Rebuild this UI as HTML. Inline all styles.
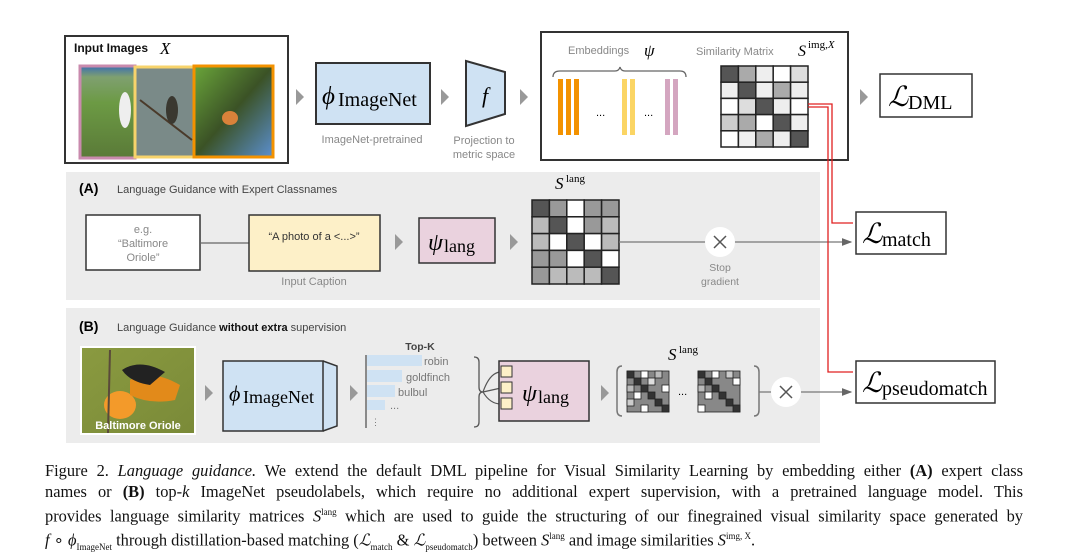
<!DOCTYPE html>
<html><head><meta charset="utf-8"><style>
body{margin:0;width:1080px;height:557px;background:#fff;overflow:hidden;position:relative;font-family:"Liberation Sans",sans-serif}
svg{position:absolute;left:0;top:0}
.cap{position:absolute;left:45px;width:978px;font-family:"Liberation Serif",serif;font-size:16.4px;color:#111;line-height:21px}
.cap div{text-align:justify;text-align-last:justify;white-space:nowrap}
.cap div.last{text-align-last:left}
</style></head><body>
<svg width="1080" height="460" viewBox="0 0 1080 460" font-family="Liberation Sans, sans-serif">
<defs>
<marker id="ar" markerWidth="8" markerHeight="8" refX="7" refY="4" orient="auto"><path d="M0,1 L8,4 L0,7Z" fill="#666"/></marker>
<linearGradient id="g1" x1="0" y1="0" x2="0" y2="1"><stop offset="0" stop-color="#3c6fb0"/><stop offset=".12" stop-color="#7fa070"/><stop offset=".4" stop-color="#6c9a44"/><stop offset="1" stop-color="#5a7a38"/></linearGradient>
<linearGradient id="g3" x1="0" y1="0" x2="1" y2="1"><stop offset="0" stop-color="#6aa53a"/><stop offset=".5" stop-color="#3b5226"/><stop offset="1" stop-color="#5b8fcf"/></linearGradient>
<linearGradient id="g4" x1="0" y1="0" x2="1" y2="1"><stop offset="0" stop-color="#8a9a40"/><stop offset="1" stop-color="#7a8a38"/></linearGradient>
</defs>
<!-- input images -->
<rect x="65" y="36" width="223" height="127" fill="#fff" stroke="#333" stroke-width="2"/>
<text x="74" y="52" font-size="12" font-weight="bold" fill="#111">Input Images</text>
<text x="160" y="54" font-size="17" font-style="italic" font-family="Liberation Serif,serif">X</text>
<rect x="80" y="66" width="55" height="92" fill="url(#g1)" stroke="#c98aad" stroke-width="3"/>
<ellipse cx="125" cy="110" rx="6" ry="18" fill="#eee"/>
<rect x="135" y="67" width="59" height="90" fill="#7a8a88" stroke="#f7d36b" stroke-width="3"/>
<line x1="140" y1="100" x2="192" y2="140" stroke="#4a3a2a" stroke-width="2"/>
<ellipse cx="172" cy="110" rx="6" ry="14" fill="#3a3830"/>
<rect x="194" y="66" width="79" height="91" fill="url(#g3)" stroke="#f39200" stroke-width="3"/>
<ellipse cx="230" cy="118" rx="8" ry="7" fill="#d9823a"/>
<!-- phi -->
<rect x="316" y="63" width="114" height="61" fill="#cfe2f3" stroke="#333" stroke-width="2"/>
<text x="322" y="104" font-family="Liberation Serif,serif" font-size="25" font-style="italic">ϕ</text><text x="338" y="106" font-family="Liberation Serif,serif" font-size="20">ImageNet</text>
<text x="372" y="143" font-size="11" fill="#888" text-anchor="middle">ImageNet-pretrained</text>
<path d="M466,61 L505,72 L505,114 L466,126Z" fill="#cfe2f3" stroke="#333" stroke-width="2"/>
<text x="482" y="103" font-family="Liberation Serif,serif" font-size="22" font-style="italic">f</text>
<text x="484" y="144" font-size="11" fill="#888" text-anchor="middle">Projection to</text>
<text x="484" y="158" font-size="11" fill="#888" text-anchor="middle">metric space</text>
<!-- embeddings box -->
<rect x="541" y="32" width="307" height="128" fill="#fff" stroke="#333" stroke-width="2"/>
<text x="568" y="54" font-size="11" fill="#888">Embeddings</text>
<text x="644" y="56" font-family="Liberation Serif,serif" font-size="17" font-style="italic">ψ</text>
<path d="M553,77 Q553,71 560,71 L615,71 Q619,71 620,67 Q621,71 625,71 L680,71 Q686,71 686,77" fill="none" stroke="#666" stroke-width="1.3"/>
<g fill="#f39200"><rect x="558" y="79" width="5" height="56"/><rect x="566" y="79" width="5" height="56"/><rect x="574" y="79" width="5" height="56"/></g>
<text x="596" y="116" font-size="11">...</text>
<g fill="#fbd564"><rect x="622" y="79" width="5" height="56"/><rect x="630" y="79" width="5" height="56"/></g>
<text x="644" y="116" font-size="11">...</text>
<g fill="#d4a6c0"><rect x="665" y="79" width="5" height="56"/><rect x="673" y="79" width="5" height="56"/></g>
<text x="696" y="55" font-size="11" fill="#888">Similarity Matrix</text>
<text x="798" y="56" font-family="Liberation Serif,serif" font-size="16" font-style="italic">S</text><text x="808" y="48" font-family="Liberation Serif,serif" font-size="11">img,<tspan font-style="italic">X</tspan></text>
<g stroke="#222" stroke-width="1.5">
<rect x="721" y="66" width="17.4" height="16.2" fill="#555"/><rect x="738.4" y="66" width="17.4" height="16.2" fill="#aaa"/><rect x="755.8" y="66" width="17.4" height="16.2" fill="#eee"/><rect x="773.2" y="66" width="17.4" height="16.2" fill="#fff"/><rect x="790.6" y="66" width="17.4" height="16.2" fill="#ddd"/>
<rect x="721" y="82.2" width="17.4" height="16.2" fill="#eee"/><rect x="738.4" y="82.2" width="17.4" height="16.2" fill="#555"/><rect x="755.8" y="82.2" width="17.4" height="16.2" fill="#eee"/><rect x="773.2" y="82.2" width="17.4" height="16.2" fill="#aaa"/><rect x="790.6" y="82.2" width="17.4" height="16.2" fill="#eee"/>
<rect x="721" y="98.4" width="17.4" height="16.2" fill="#fff"/><rect x="738.4" y="98.4" width="17.4" height="16.2" fill="#ddd"/><rect x="755.8" y="98.4" width="17.4" height="16.2" fill="#555"/><rect x="773.2" y="98.4" width="17.4" height="16.2" fill="#eee"/><rect x="790.6" y="98.4" width="17.4" height="16.2" fill="#fff"/>
<rect x="721" y="114.6" width="17.4" height="16.2" fill="#ccc"/><rect x="738.4" y="114.6" width="17.4" height="16.2" fill="#aaa"/><rect x="755.8" y="114.6" width="17.4" height="16.2" fill="#fff"/><rect x="773.2" y="114.6" width="17.4" height="16.2" fill="#555"/><rect x="790.6" y="114.6" width="17.4" height="16.2" fill="#eee"/>
<rect x="721" y="130.8" width="17.4" height="16.2" fill="#fff"/><rect x="738.4" y="130.8" width="17.4" height="16.2" fill="#eee"/><rect x="755.8" y="130.8" width="17.4" height="16.2" fill="#aaa"/><rect x="773.2" y="130.8" width="17.4" height="16.2" fill="#eee"/><rect x="790.6" y="130.8" width="17.4" height="16.2" fill="#555"/>
</g>
<!-- L_DML -->
<rect x="880" y="74" width="92" height="43" fill="#fff" stroke="#333" stroke-width="1.5"/>
<text x="888" y="106" font-family="Liberation Serif,serif" font-size="28" font-style="italic">ℒ</text><text x="908" y="109" font-family="Liberation Serif,serif" font-size="20">DML</text>
<!-- section A -->
<rect x="66" y="172" width="754" height="128" fill="#ececec"/>
<text x="79" y="193" font-size="14" font-weight="bold">(A)</text>
<text x="117" y="193" font-size="11" fill="#444">Language Guidance with Expert Classnames</text>
<rect x="86" y="215" width="114" height="55" fill="#fff" stroke="#333" stroke-width="1.5"/>
<g font-size="11" fill="#888" text-anchor="middle"><text x="143" y="233">e.g.</text><text x="143" y="247">“Baltimore</text><text x="143" y="261">Oriole”</text></g>
<line x1="200" y1="243" x2="249" y2="243" stroke="#666" stroke-width="1.3"/>
<rect x="249" y="215" width="131" height="56" fill="#fdf0c8" stroke="#333" stroke-width="1.5"/>
<text x="314" y="240" font-size="11" fill="#333" text-anchor="middle">“A photo of a &lt;...&gt;”</text>
<text x="314" y="285" font-size="11" fill="#888" text-anchor="middle">Input Caption</text>
<rect x="419" y="218" width="76" height="45" fill="#ead2de" stroke="#333" stroke-width="1.5"/>
<text x="428" y="250" font-family="Liberation Serif,serif" font-size="24" font-style="italic">ψ</text><text x="444" y="252" font-family="Liberation Serif,serif" font-size="18">lang</text>
<text x="555" y="189" font-family="Liberation Serif,serif" font-size="17" font-style="italic">S</text><text x="566" y="182" font-family="Liberation Serif,serif" font-size="11">lang</text>
<g stroke="#222" stroke-width="1.5">
<rect x="532" y="200" width="17.4" height="16.8" fill="#555"/><rect x="549.4" y="200" width="17.4" height="16.8" fill="#999"/><rect x="566.8" y="200" width="17.4" height="16.8" fill="#fff"/><rect x="584.2" y="200" width="17.4" height="16.8" fill="#999"/><rect x="601.6" y="200" width="17.4" height="16.8" fill="#999"/>
<rect x="532" y="216.8" width="17.4" height="16.8" fill="#bbb"/><rect x="549.4" y="216.8" width="17.4" height="16.8" fill="#555"/><rect x="566.8" y="216.8" width="17.4" height="16.8" fill="#fff"/><rect x="584.2" y="216.8" width="17.4" height="16.8" fill="#999"/><rect x="601.6" y="216.8" width="17.4" height="16.8" fill="#bbb"/>
<rect x="532" y="233.6" width="17.4" height="16.8" fill="#bbb"/><rect x="549.4" y="233.6" width="17.4" height="16.8" fill="#fff"/><rect x="566.8" y="233.6" width="17.4" height="16.8" fill="#555"/><rect x="584.2" y="233.6" width="17.4" height="16.8" fill="#fff"/><rect x="601.6" y="233.6" width="17.4" height="16.8" fill="#bbb"/>
<rect x="532" y="250.4" width="17.4" height="16.8" fill="#999"/><rect x="549.4" y="250.4" width="17.4" height="16.8" fill="#999"/><rect x="566.8" y="250.4" width="17.4" height="16.8" fill="#fff"/><rect x="584.2" y="250.4" width="17.4" height="16.8" fill="#555"/><rect x="601.6" y="250.4" width="17.4" height="16.8" fill="#fff"/>
<rect x="532" y="267.2" width="17.4" height="16.8" fill="#999"/><rect x="549.4" y="267.2" width="17.4" height="16.8" fill="#bbb"/><rect x="566.8" y="267.2" width="17.4" height="16.8" fill="#bbb"/><rect x="584.2" y="267.2" width="17.4" height="16.8" fill="#bbb"/><rect x="601.6" y="267.2" width="17.4" height="16.8" fill="#555"/>
</g>
<line x1="619" y1="242" x2="851" y2="242" stroke="#777" stroke-width="1.3" marker-end="url(#ar)"/>
<circle cx="720" cy="242" r="15" fill="#fff"/>
<path d="M714,236 L726,248 M726,236 L714,248" stroke="#555" stroke-width="1.5"/>
<text x="720" y="271" font-size="10.5" fill="#888" text-anchor="middle">Stop</text>
<text x="720" y="285" font-size="10.5" fill="#888" text-anchor="middle">gradient</text>
<rect x="856" y="212" width="90" height="42" fill="#fff" stroke="#333" stroke-width="1.5"/>
<text x="862" y="243" font-family="Liberation Serif,serif" font-size="28" font-style="italic">ℒ</text><text x="882" y="246" font-family="Liberation Serif,serif" font-size="20">match</text>
<!-- section B -->
<rect x="66" y="308" width="754" height="135" fill="#ececec"/>
<text x="79" y="331" font-size="14" font-weight="bold">(B)</text>
<text x="117" y="331" font-size="11" fill="#444">Language Guidance <tspan font-weight="bold" fill="#111">without extra</tspan> supervision</text>
<rect x="80" y="346" width="116" height="89" fill="#fff"/>
<rect x="82" y="348" width="112" height="85" fill="url(#g4)"/>
<ellipse cx="120" cy="405" rx="16" ry="14" fill="#f39a2a"/>
<path d="M130,380 Q150,368 180,385 L175,400 Q150,405 130,395Z" fill="#e28a1a"/>
<path d="M122,370 Q140,358 165,372 L150,385 Q130,382 122,370Z" fill="#222"/>
<line x1="110" y1="350" x2="108" y2="433" stroke="#5a4a3a" stroke-width="2"/>
<text x="138" y="429" font-size="11" font-weight="bold" fill="#fff" text-anchor="middle">Baltimore Oriole</text>
<path d="M323,361 L337,366 L337,426 L323,431" fill="#cfe2f3" stroke="#333" stroke-width="1.5"/>
<rect x="223" y="361" width="100" height="70" fill="#cfe2f3" stroke="#333" stroke-width="1.5"/>
<text x="229" y="401" font-family="Liberation Serif,serif" font-size="22" font-style="italic">ϕ</text><text x="243" y="403" font-family="Liberation Serif,serif" font-size="18">ImageNet</text>
<text x="420" y="350" font-size="10.5" font-weight="bold" fill="#444" text-anchor="middle">Top-K</text>
<g fill="#cfe2f3"><rect x="367" y="355" width="55" height="11"/><rect x="367" y="370" width="35" height="12"/><rect x="367" y="385" width="28" height="12"/><rect x="367" y="400" width="18" height="10"/></g>
<line x1="366" y1="355" x2="366" y2="428" stroke="#555" stroke-width="1.3"/>
<g font-size="11" fill="#777"><text x="424" y="365">robin</text><text x="406" y="381">goldfinch</text><text x="398" y="396">bulbul</text><text x="390" y="409">...</text><text x="371" y="425" font-size="9">⋮</text></g>
<path d="M474,357 Q479,357 479,362 L479,387 Q479,392 483,392 Q479,392 479,397 L479,422 Q479,427 474,427" fill="none" stroke="#555" stroke-width="1.3"/>
<path d="M483,392 Q490,372 501,372 M483,392 L501,388 M483,392 Q490,404 501,404" fill="none" stroke="#555" stroke-width="1.2"/>
<rect x="499" y="361" width="90" height="60" fill="#ead2de" stroke="#333" stroke-width="1.5"/>
<g fill="#fdf0c8" stroke="#333"><rect x="501" y="366" width="11" height="11"/><rect x="501" y="382" width="11" height="11"/><rect x="501" y="398" width="11" height="11"/></g>
<text x="522" y="401" font-family="Liberation Serif,serif" font-size="24" font-style="italic">ψ</text><text x="538" y="403" font-family="Liberation Serif,serif" font-size="18">lang</text>
<text x="668" y="360" font-family="Liberation Serif,serif" font-size="17" font-style="italic">S</text><text x="679" y="353" font-family="Liberation Serif,serif" font-size="11">lang</text>
<path d="M622,366 Q617,366 617,372 L617,410 Q617,416 622,416 M754,366 Q759,366 759,372 L759,410 Q759,416 754,416" fill="none" stroke="#777" stroke-width="1.5"/>
<g stroke="#222" stroke-width="0.8">
<rect x="627" y="371" width="42" height="41" fill="#888"/>
<rect x="627" y="371" width="7" height="7" fill="#333"/><rect x="641" y="371" width="7" height="7" fill="#fff"/><rect x="655" y="371" width="7" height="7" fill="#bbb"/><rect x="634" y="378" width="7" height="7" fill="#333"/><rect x="648" y="378" width="7" height="7" fill="#ddd"/><rect x="627" y="385" width="7" height="7" fill="#bbb"/><rect x="641" y="385" width="7" height="7" fill="#333"/><rect x="662" y="385" width="7" height="7" fill="#fff"/><rect x="634" y="392" width="7" height="7" fill="#fff"/><rect x="648" y="392" width="7" height="7" fill="#333"/><rect x="627" y="399" width="7" height="7" fill="#ccc"/><rect x="655" y="399" width="7" height="7" fill="#333"/><rect x="641" y="405" width="7" height="7" fill="#fff"/><rect x="662" y="405" width="7" height="7" fill="#333"/>
<rect x="698" y="371" width="42" height="41" fill="#888"/>
<rect x="698" y="371" width="7" height="7" fill="#333"/><rect x="712" y="371" width="7" height="7" fill="#fff"/><rect x="726" y="371" width="7" height="7" fill="#ccc"/><rect x="705" y="378" width="7" height="7" fill="#333"/><rect x="733" y="378" width="7" height="7" fill="#fff"/><rect x="698" y="385" width="7" height="7" fill="#bbb"/><rect x="712" y="385" width="7" height="7" fill="#333"/><rect x="719" y="392" width="7" height="7" fill="#333"/><rect x="705" y="392" width="7" height="7" fill="#fff"/><rect x="726" y="399" width="7" height="7" fill="#333"/><rect x="698" y="405" width="7" height="7" fill="#fff"/><rect x="733" y="405" width="7" height="7" fill="#333"/>
</g>
<text x="678" y="395" font-size="11">...</text>
<line x1="759" y1="392" x2="851" y2="392" stroke="#777" stroke-width="1.3" marker-end="url(#ar)"/>
<circle cx="786" cy="392" r="15" fill="#fff"/>
<path d="M780,386 L792,398 M792,386 L780,398" stroke="#555" stroke-width="1.5"/>
<rect x="856" y="361" width="139" height="42" fill="#fff" stroke="#333" stroke-width="1.5"/>
<text x="862" y="392" font-family="Liberation Serif,serif" font-size="28" font-style="italic">ℒ</text><text x="882" y="395" font-family="Liberation Serif,serif" font-size="20">pseudomatch</text>
<!-- arrows -->
<g fill="#999"><path d="M296,89 L304,97 L296,105Z"/><path d="M441,89 L449,97 L441,105Z"/><path d="M520,89 L528,97 L520,105Z"/><path d="M860,89 L868,97 L860,105Z"/>
<path d="M395,234 L403,242 L395,250Z"/><path d="M510,234 L518,242 L510,250Z"/><path d="M205,385 L213,393 L205,401Z"/><path d="M350,385 L358,393 L350,401Z"/><path d="M601,385 L609,393 L601,401Z"/></g>
<!-- red connectors -->
<path d="M808,104 L832,104 L832,223 L853,223" fill="none" stroke="#e02020" stroke-width="1.3"/>
<path d="M808,107 L828,107 L828,372 L853,372" fill="none" stroke="#e02020" stroke-width="1.3"/>
</svg>
<div class="cap" style="top:460px">
<div>Figure 2. <i>Language guidance.</i> We extend the default DML pipeline for Visual Similarity Learning by embedding either <b>(A)</b> expert class</div>
<div>names or <b>(B)</b> top-<i>k</i> ImageNet pseudolabels, which require no additional expert supervision, with a pretrained language model. This</div>
<div>provides language similarity matrices <i>S</i><sup style="font-size:9px">lang</sup> which are used to guide the structuring of our finegrained visual similarity space generated by</div>
<div class="last"><i>f</i> ∘ <i>ϕ</i><sub style="font-size:9px">ImageNet</sub> through distillation-based matching (<i>ℒ</i><sub style="font-size:9px">match</sub> &amp; <i>ℒ</i><sub style="font-size:9px">pseudomatch</sub>) between <i>S</i><sup style="font-size:9px">lang</sup> and image similarities <i>S</i><sup style="font-size:9px">img, X</sup>.</div>
</div>
</body></html>
